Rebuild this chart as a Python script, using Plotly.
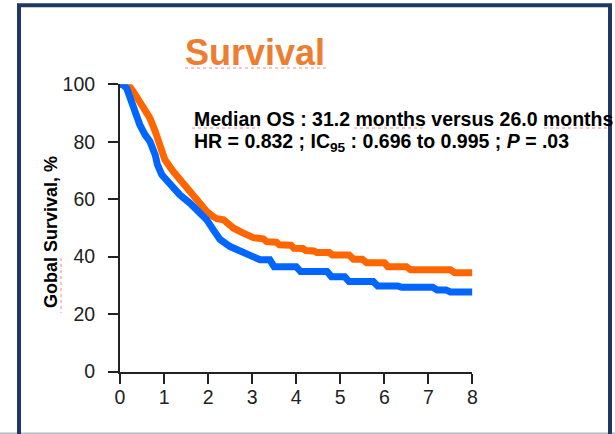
import plotly.graph_objects as go

# Overall survival (Kaplan-Meier vertices), time in years, survival in %
time_orange = [0, 0.18, 0.30, 0.45, 0.57, 0.68, 0.80, 0.91, 1.02, 1.21,
               1.40, 1.59, 1.82, 1.97, 2.12, 2.20, 2.35, 2.45, 2.58, 2.80,
               3.03, 3.25, 3.33, 3.55, 3.62, 3.88, 3.95, 4.15, 4.22, 4.40,
               4.47, 4.75, 4.82, 5.20, 5.30, 5.50, 5.60, 6.00, 6.08, 6.50,
               6.60, 7.50, 7.60, 8.0]
surv_orange = [100, 100, 97.5, 94.0, 91.1, 88.2, 83.6, 78.3, 73.7, 69.6,
               66.1, 63.2, 59.0, 55.7, 53.9, 53.2, 52.8, 51.5, 49.9, 48.2,
               46.6, 46.2, 45.2, 45.0, 44.1, 44.0, 42.9, 42.8, 42.1, 42.0,
               41.4, 41.4, 40.6, 40.6, 39.1, 39.1, 37.9, 37.9, 36.5, 36.5,
               35.4, 35.4, 34.4, 34.4]

time_blue = [0, 0.05, 0.15, 0.23, 0.34, 0.45, 0.57, 0.68, 0.80, 0.85,
             0.95, 1.14, 1.36, 1.59, 1.82, 1.97, 2.12, 2.27, 2.50, 2.73,
             2.95, 3.10, 3.18, 3.40, 3.50, 4.00, 4.10, 4.70, 4.80, 5.10,
             5.20, 5.75, 5.85, 6.30, 6.40, 7.10, 7.20, 7.40, 7.50, 8.0]
surv_blue = [100, 100, 98.7, 95.2, 90.5, 85.9, 82.4, 80.1, 75.4, 72.0,
             68.5, 65.0, 61.5, 58.6, 55.4, 52.8, 49.3, 46.0, 43.5, 42.0,
             40.5, 40.0, 38.9, 38.9, 36.5, 36.5, 34.8, 34.8, 33.0, 33.0,
             31.3, 31.3, 29.8, 29.8, 29.3, 29.3, 28.4, 28.4, 27.7, 27.7]

x_ticks = [0, 1, 2, 3, 4, 5, 6, 7, 8]
y_ticks = [0, 20, 40, 60, 80, 100]

W, H = 615, 434
FONT = "Liberation Sans, Arial, sans-serif"


def px(x):
    return x / W


def py(y):
    return 1 - y / H


fig = go.Figure()
fig.add_trace(go.Scatter(x=time_orange, y=surv_orange, mode="lines",
                         line=dict(color="#FF6600", width=7),
                         cliponaxis=False, showlegend=False))
fig.add_trace(go.Scatter(x=time_blue, y=surv_blue, mode="lines",
                         line=dict(color="#0066FF", width=7),
                         cliponaxis=False, showlegend=False))

axis_common = dict(showline=True, linecolor="#222222", linewidth=2,
                   ticks="outside", ticklen=10, tickwidth=2, tickcolor="#222222",
                   showgrid=False, zeroline=False, automargin=False,
                   tickfont=dict(family=FONT, size=19.5, color="#222222"))

fig.update_layout(
    template="none",
    width=W, height=H,
    margin=dict(l=0, r=0, t=0, b=0, pad=0),
    paper_bgcolor="white", plot_bgcolor="white",
    xaxis=dict(domain=[px(120), px(472.4)], range=[0, 8], tickvals=x_ticks,
               ticklabelstandoff=-3, **axis_common),
    yaxis=dict(domain=[py(371.5), py(84.3)], range=[0, 100], tickvals=y_ticks,
               ticklabelstandoff=9, **axis_common),
)

annotations = [
    dict(x=px(255), y=py(52), text="<b>Survival</b>",
         font=dict(family=FONT, size=36, color="#ED7D31")),
    dict(x=px(192), y=py(119), xanchor="left",
         text="<b>Median OS : 31.2 months versus 26.0 months</b>",
         font=dict(family=FONT, size=19.5, color="black")),
    dict(x=px(192), y=py(143), xanchor="left",
         text="<b>HR = 0.832 ; IC<sub>95</sub> : 0.696 to 0.995 ; <i>P</i> = .03</b>",
         font=dict(family=FONT, size=19.5, color="black")),
    dict(x=px(51), y=py(232), textangle=-90,
         text="<b>Gobal Survival, %</b>",
         font=dict(family=FONT, size=18, color="black")),
]
for a in annotations:
    a.setdefault("xanchor", "center")
    a.update(xref="paper", yref="paper", yanchor="middle", showarrow=False)
fig.update_layout(annotations=annotations)

# spell-check squiggles under a few words
squiggles = [((185, 68), (328, 68)), ((192, 128), (259, 128)),
             ((354, 128), (426, 128)), ((544, 128), (611, 128))]
shapes = []
for (x0, y0), (x1, y1) in squiggles:
    shapes.append(dict(type="line", xref="paper", yref="paper",
                       x0=px(x0), y0=py(y0), x1=px(x1), y1=py(y1),
                       line=dict(color="#F28A8A", width=1, dash="dot")))
shapes.append(dict(type="line", xref="paper", yref="paper",
                   x0=px(61), y0=py(258), x1=px(61), y1=py(313),
                   line=dict(color="#F28A8A", width=1, dash="dot")))

# slide frame
shapes.append(dict(type="line", xref="paper", yref="paper",
                   x0=0, y0=py(433.5), x1=1, y1=py(433.5),
                   line=dict(color="#B4BCC6", width=2)))
shapes.append(dict(type="rect", xref="paper", yref="paper",
                   x0=px(19), y0=py(445), x1=px(610), y1=py(5.2),
                   line=dict(color="#1F3864", width=4)))
fig.update_layout(shapes=shapes)

# page without the default body margin, so the figure sits at the window origin
page_js = "document.body.style.margin='0';document.body.style.overflow='hidden';"
fig.write_html("out.html", post_script=page_js)
